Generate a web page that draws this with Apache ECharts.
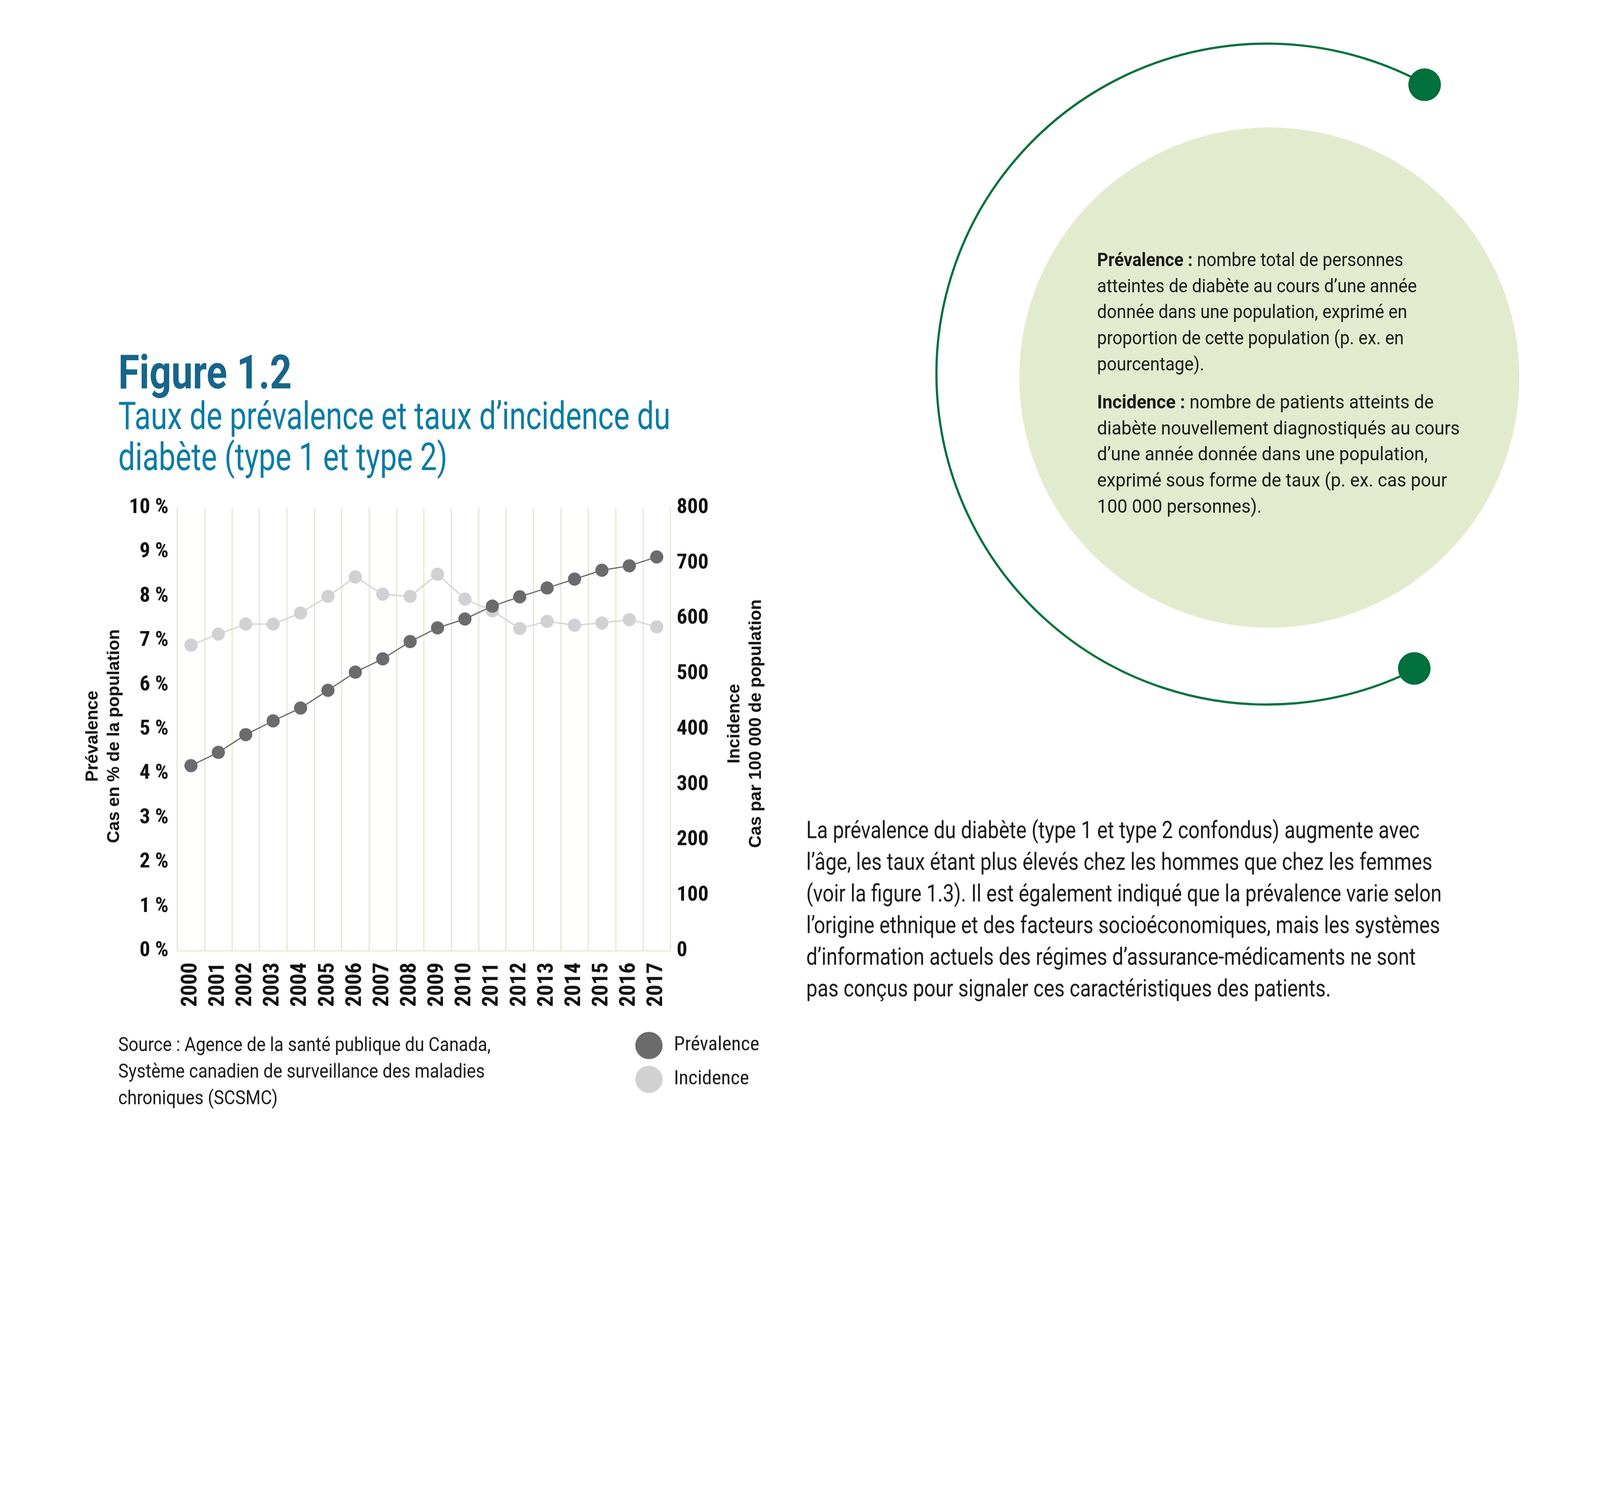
<!DOCTYPE html>
<html><head><meta charset="utf-8">
<script src="https://cdn.jsdelivr.net/npm/echarts@6/dist/echarts.min.js"></script>
<style>html,body{margin:0;padding:0;background:#fff;overflow:hidden}#wrap{position:relative;overflow:hidden}#c{position:absolute;left:0;top:0;width:5100px;height:3832px;transform-origin:0 0}</style>
</head><body><div id="wrap"><div id="c"></div></div>
<script>
// ---- data ----
const years = ['2000','2001','2002','2003','2004','2005','2006','2007','2008','2009','2010','2011','2012','2013','2014','2015','2016','2017'];
const prevalence = [4.18,4.48,4.88,5.19,5.48,5.88,6.29,6.59,6.98,7.29,7.49,7.78,7.99,8.19,8.39,8.59,8.69,8.89];
const incidence = [552,572,590,590,610,640,675,644,640,680,635,614,582,595,588,592,598,585];
const prevAxis = {min:0, max:10, interval:1};
const incAxis = {min:0, max:800, interval:100};
const seriesNames = ['Prévalence','Incidence'];

const titleText = 'Figure 1.2';
const subtitleLines = ['Taux de prévalence et taux d’incidence du','diabète (type 1 et type 2)'];
const sourceLines = ['Source : Agence de la santé publique du Canada,','Système canadien de surveillance des maladies','chroniques (SCSMC)'];
const defPrev = [['Prévalence :',' nombre total de personnes'],'atteintes de diabète au cours d’une année','donnée dans une population, exprimé en','proportion de cette population (p. ex. en','pourcentage).'];
const defInc = [['Incidence :',' nombre de patients atteints de'],'diabète nouvellement diagnostiqués au cours','d’une année donnée dans une population,','exprimé sous forme de taux (p. ex. cas pour','100 000 personnes).'];
const bodyLines = ['La prévalence du diabète (type 1 et type 2 confondus) augmente avec','l’âge, les taux étant plus élevés chez les hommes que chez les femmes','(voir la figure 1.3). Il est également indiqué que la prévalence varie selon','l’origine ethnique et des facteurs socioéconomiques, mais les systèmes','d’information actuels des régimes d’assurance-médicaments ne sont','pas conçus pour signaler ces caractéristiques des patients.'];

// ---- fit the 5100x3832 design to the window ----
const W = 5100, H = 3832;
const k = Math.min(window.innerWidth / W, window.innerHeight / H);
const wrap = document.getElementById('wrap');
wrap.style.width = (W * k) + 'px';
wrap.style.height = (H * k) + 'px';
document.getElementById('c').style.transform = 'scale(' + k + ')';
const dpr = k * (window.devicePixelRatio || 1);

// ---- styling helpers ----
const NARROW = "'Liberation Sans Narrow','Roboto Condensed','DejaVu Sans Condensed',sans-serif";
const TXT = 'Roboto';
const mctx = document.createElement('canvas').getContext('2d');
function tw(t, size, weight){ mctx.font = weight + ' ' + size + 'px ' + TXT; return mctx.measureText(t).width; }
function lineWidth(line, size, weight){
  if (Array.isArray(line)) return tw(line[0], size, 'bold') + tw(line[1], size, weight);
  return tw(line, size, weight);
}
function para(lines, x, y0, lh, size, weight, color, targetW){
  const s = targetW / lineWidth(lines[0], size, weight);
  return lines.map((ln, i) => {
    const rich = Array.isArray(ln);
    return {
      type:'text', x:x, y:y0 + i*lh, scaleX:s, silent:true,
      style:{
        text: rich ? '{b|' + ln[0] + '}' + ln[1] : ln,
        fontSize:size, fontFamily:TXT, fontWeight:weight, fill:color,
        align:'left', verticalAlign:'middle',
        rich: rich ? {b:{fontSize:size, fontFamily:TXT, fontWeight:'bold', fill:color}} : undefined
      }
    };
  });
}

const green = '#00703c';
const graphics = [].concat(
  para([titleText], 377, 1200, 0, 150, 'bold', '#17658a', 553),
  para(subtitleLines, 377, 1337, 130, 122, 'normal', '#0a7ba4', 1760),
  para(sourceLines, 377, 3334, 84.6, 62, 'normal', '#1a1a1a', 1187),
  [
    {type:'circle', shape:{cx:4046, cy:1203, r:797}, style:{fill:'#e3ebcf'}, silent:true},
    {type:'arc', shape:{cx:4038, cy:1192, r:1053, startAngle:1.1066, endAngle:2*Math.PI-1.0716, clockwise:true}, style:{stroke:green, lineWidth:7, fill:'none'}, silent:true},
    {type:'circle', shape:{cx:4541, cy:270, r:52}, style:{fill:green}, silent:true},
    {type:'circle', shape:{cx:4508, cy:2130, r:52}, style:{fill:green}, silent:true}
  ],
  para(defPrev, 3497, 833, 83, 60, 'normal', '#1a1a1a', 976),
  para(defInc, 3497, 1286, 83, 60, 'normal', '#1a1a1a', 1073),
  para(bodyLines, 2570, 2652, 100.8, 76, 'normal', '#1a1a1a', 1955)
);

const gridColor = '#e5ead2';
const nameStyle = {fontFamily:'Liberation Sans', fontWeight:'bold', fontSize:55, lineHeight:69, color:'#111'};
const chart = echarts.init(document.getElementById('c'), null, {renderer:'canvas', devicePixelRatio:dpr, width:W, height:H});
chart.setOption({
  backgroundColor:'#ffffff',
  animation:false,
  grid:{left:565, right:2963, top:1618, bottom:802, containLabel:false},
  xAxis:{
    type:'category', data:years, boundaryGap:true,
    axisLine:{show:true, lineStyle:{color:gridColor, width:4}},
    axisTick:{show:false},
    splitLine:{show:true, interval:0, lineStyle:{color:gridColor, width:4}},
    axisLabel:{interval:0, rotate:90, margin:37, fontFamily:NARROW, fontWeight:'bold', fontSize:70, color:'#111'}
  },
  yAxis:[
    {type:'value', position:'left', min:prevAxis.min, max:prevAxis.max, interval:prevAxis.interval,
     name:'Prévalence\nCas en % de la population', nameLocation:'middle', nameRotate:90, nameGap:166,
     nameTextStyle:Object.assign({padding:[0,44,0,0]}, nameStyle),
     axisLine:{show:true, lineStyle:{color:gridColor, width:4}}, axisTick:{show:false}, splitLine:{show:false},
     axisLabel:{formatter:v => v + ' %', margin:28, fontFamily:NARROW, fontWeight:'bold', fontSize:67, color:'#111'}},
    {type:'value', position:'right', min:incAxis.min, max:incAxis.max, interval:incAxis.interval,
     name:'Incidence\nCas par 100 000 de population', nameLocation:'middle', nameRotate:90, nameGap:170,
     nameTextStyle:Object.assign({padding:[0,0,0,36]}, nameStyle),
     axisLine:{show:true, lineStyle:{color:gridColor, width:4}}, axisTick:{show:false}, splitLine:{show:false},
     axisLabel:{margin:20, fontFamily:NARROW, fontWeight:'bold', fontSize:67, color:'#111'}}
  ],
  legend:{
    orient:'vertical', left:2020, top:3283, data:seriesNames, icon:'circle',
    itemWidth:87, itemHeight:87, itemGap:21, selectedMode:false,
    textStyle:{fontFamily:NARROW, fontSize:63, color:'#1a1a1a', padding:[0,0,0,31]}
  },
  series:[
    {name:seriesNames[1], type:'line', yAxisIndex:1, data:incidence, symbol:'circle', symbolSize:42,
     itemStyle:{color:'#d1d1d1'}, lineStyle:{color:'#cecece', width:3.5}, emphasis:{disabled:true}, z:2},
    {name:seriesNames[0], type:'line', yAxisIndex:0, data:prevalence, symbol:'circle', symbolSize:42,
     itemStyle:{color:'#6b6b6b'}, lineStyle:{color:'#5a5a5a', width:3.5}, emphasis:{disabled:true}, z:3}
  ],
  graphic:graphics
});
</script></body></html>
